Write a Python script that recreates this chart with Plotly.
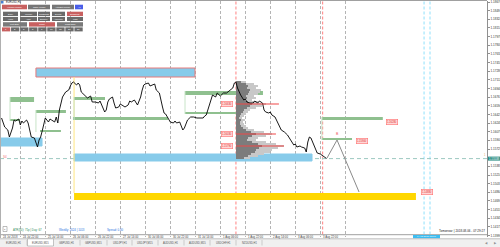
import plotly.graph_objects as go

W, H = 500, 247

# ---------------- price data (H1 bar index, close) ----------------
bars = [1, 2, 3, 5, 6, 8, 9, 10, 12, 13,
        14, 15, 17, 18, 19, 20, 22, 23, 24, 25,
        26, 27, 28, 29, 31, 32, 33, 35, 36, 37,
        38, 40, 42, 44, 45, 46, 47, 49, 50, 51,
        52, 54, 56, 58, 59, 61, 63, 64, 65, 67,
        68, 69, 70, 72, 73, 74, 76, 77, 78, 80,
        82, 83, 84, 86, 88, 90, 91, 92, 93, 95,
        96, 98, 99, 100, 102, 104, 105, 106, 107, 109,
        111, 112, 113, 115, 116, 117, 118, 120, 122, 124,
        126, 128, 130, 131, 132, 134, 136, 138, 139, 141,
        143, 145, 147, 149, 150, 151, 152, 154, 156, 157,
        158, 160, 162, 163, 165, 166, 168, 169, 170, 172,
        173, 174, 176, 178, 179, 180, 182, 184, 186, 188,
        189, 190, 192, 193, 195, 196, 197, 198, 199, 200,
        202, 203, 205, 207, 208, 209]
closes = [1.1635, 1.1627, 1.1617, 1.1611, 1.1597, 1.1615, 1.1631, 1.1629, 1.1633, 1.1621,
          1.1629, 1.1625, 1.1631, 1.1625, 1.1611, 1.1597, 1.1595, 1.1587, 1.1577, 1.1591,
          1.1597, 1.1609, 1.1625, 1.1635, 1.1627, 1.1633, 1.1631, 1.1627, 1.1637, 1.1625,
          1.1651, 1.1677, 1.1687, 1.1691, 1.1699, 1.1705, 1.1707, 1.1701, 1.1705, 1.1701,
          1.1687, 1.1681, 1.1675, 1.1679, 1.1667, 1.1667, 1.1665, 1.1669, 1.1661, 1.1647,
          1.1651, 1.1667, 1.1673, 1.1677, 1.1665, 1.1655, 1.1657, 1.1663, 1.1661, 1.1657,
          1.1661, 1.1669, 1.1667, 1.1671, 1.1661, 1.1677, 1.1691, 1.1701, 1.1703, 1.1705,
          1.1699, 1.1701, 1.1703, 1.1691, 1.1685, 1.1657, 1.1645, 1.1643, 1.1637, 1.1627,
          1.1625, 1.1629, 1.1625, 1.1627, 1.1619, 1.1611, 1.1615, 1.1631, 1.1637, 1.1637,
          1.1635, 1.1635, 1.1635, 1.1639, 1.1641, 1.1661, 1.1681, 1.1677, 1.1685, 1.1679,
          1.1685, 1.1685, 1.1691, 1.1695, 1.1705, 1.1707, 1.1695, 1.1681, 1.1671, 1.1673,
          1.1667, 1.1665, 1.1665, 1.1669, 1.1665, 1.1669, 1.1665, 1.1651, 1.1647, 1.1645,
          1.1647, 1.1641, 1.1637, 1.1625, 1.1617, 1.1611, 1.1607, 1.1601, 1.1591, 1.1581,
          1.1583, 1.1577, 1.1579, 1.1577, 1.1575, 1.1567, 1.1587, 1.1597, 1.1595, 1.1587,
          1.1575, 1.1565, 1.1563, 1.1559, 1.1557, 1.1554]

forecast_bars = [209.3, 215.7, 229.8]
forecast_prices = [1.1555, 1.1591, 1.1487]
current_price = 1.15538

# ---------------- volume profile ----------------
profile_start = 151.0
profile_levels = [1.1707, 1.1703, 1.1699, 1.1695, 1.1691, 1.1687, 1.1683, 1.1679, 1.1675, 1.1671,
                  1.1667, 1.1663, 1.1659, 1.1655, 1.1651, 1.1647, 1.1643, 1.1639, 1.1635, 1.1631,
                  1.1627, 1.1623, 1.1619, 1.1615, 1.1611, 1.1607, 1.1603, 1.1599, 1.1595, 1.1591,
                  1.1587, 1.1583, 1.1579, 1.1575, 1.1571, 1.1567, 1.1563, 1.1559, 1.1555]
profile_volumes = [100, 180, 220, 200, 250, 240, 220, 180, 200, 160,
                   220, 300, 260, 200, 140, 120, 100, 80, 60, 90,
                   70, 80, 100, 120, 180, 280, 360, 300, 220, 200,
                   300, 400, 480, 420, 360, 340, 280, 220, 140]
profile_marks = [1.1663, 1.1603, 1.1579]
profile_mark_volumes = [430, 400, 480]
VOL_SCALE = 0.064

# ---------------- zones ----------------
blue_x0 = [0.6, 23.0, 47.4]
blue_x1 = [26.9, 124.8, 199.7]
blue_top = [1.1595, 1.1735, 1.1563]
blue_bot = [1.1579, 1.1717, 1.1549]

green_x0 = [6.4, 6.4, 23.0, 25.6, 47.4, 46.7, 118.4, 118.4, 206.0, 206.0]
green_x1 = [21.8, 12.8, 42.2, 39.0, 67.2, 107.5, 168.3, 155.5, 245.0, 225.3]
green_top = [1.1677, 1.1633, 1.1651, 1.1611, 1.1677, 1.1637, 1.1689, 1.1647, 1.1637, 1.1595]
green_bot = [1.1667, 1.1629, 1.1645, 1.1607, 1.1671, 1.1631, 1.1681, 1.1643, 1.1631, 1.1591]

target_x0, target_x1 = 47.4, 266.2
target_top, target_bot = 1.1485, 1.1471

level_label_bars = [149.1, 149.1, 149.1, 247.0, 227.8, 269.4]
level_label_prices = [1.1663, 1.1603, 1.1579, 1.1628, 1.1590, 1.1488]
level_label_texts = ["1.16630", "1.16030", "1.15790", "1.16280", "1.15900", "1.14880"]
level_label_side = ["right", "right", "right", "left", "left", "left"]

session_marks = [151.0, 206.5]
cyan_marks = [271.4, 275.2]

# ---------------- axes ----------------
time_grid = [12.8, 28.8, 44.8, 60.8, 76.8, 92.8, 108.8, 124.8, 140.8, 156.8, 172.8, 188.8, 204.8, 220.8]
time_label_pos = [0.0, 12.8, 28.8, 44.8, 60.8, 76.8, 92.8, 108.8, 124.8, 140.8, 156.8, 172.8, 188.8, 204.8]
time_labels = ["24 Jul 2018", "24 Jul 22:00", "25 Jul 14:00", "26 Jul 06:00", "26 Jul 22:00",
               "27 Jul 14:00", "30 Jul 06:00", "30 Jul 22:00", "31 Jul 14:00", "1 Aug 06:00",
               "1 Aug 22:00", "2 Aug 14:00", "3 Aug 06:00", "3 Aug 22:00"]
# the tick hidden behind the current-price marker (1.15556) is left out
price_ticks = [1.18670, 1.18497, 1.18324, 1.18151, 1.17978, 1.17805, 1.17632, 1.17459, 1.17286, 1.17113,
               1.16940, 1.16767, 1.16594, 1.16421, 1.16248, 1.16075, 1.15902, 1.15729, 1.15383,
               1.15210, 1.15037, 1.14864, 1.14691, 1.14518, 1.14345, 1.14172, 1.13999]

X_RANGE = [0, 311.68]
Y_RANGE = [1.1398, 1.1869]
PLOT_RIGHT = 487
PLOT_TOP = 1
PLOT_BOTTOM = 236.5

FONT = "Arial"


def px(x, y):
    return x / W, 1 - y / H


fig = go.Figure()

# volume profile
fig.add_trace(go.Bar(y=profile_levels, x=[v * VOL_SCALE for v in profile_volumes], base=profile_start,
                     orientation="h", width=0.00036, marker=dict(color="#c8c8c8", line_width=0),
                     hoverinfo="skip"))
fig.add_trace(go.Bar(y=profile_levels, x=[v * VOL_SCALE * 0.55 for v in profile_volumes], base=profile_start,
                     orientation="h", width=0.00036, marker=dict(color="#7c7c7c", line_width=0),
                     hoverinfo="skip"))
# price line
fig.add_trace(go.Scatter(x=bars, y=closes, mode="lines", line=dict(color="black", width=0.9),
                         hoverinfo="skip"))
# forecast
fig.add_trace(go.Scatter(x=forecast_bars, y=forecast_prices, mode="lines",
                         line=dict(color="#8a8a8a", width=1), hoverinfo="skip"))

shapes = []
for i in range(len(blue_x0)):
    shapes.append(dict(type="rect", xref="x", yref="y", x0=blue_x0[i], x1=blue_x1[i],
                       y0=blue_bot[i], y1=blue_top[i], fillcolor="#87cbea",
                       line=dict(color="#e87a7a" if i == 1 else "#87cbea", width=1), layer="between"))
shapes.append(dict(type="rect", xref="x", yref="y", x0=target_x0, x1=target_x1,
                   y0=target_bot, y1=target_top, fillcolor="#ffd700", line=dict(width=0), layer="between"))
shapes.append(dict(type="line", xref="x", yref="y", x0=target_x0, x1=target_x0,
                   y0=target_top, y1=blue_bot[1], line=dict(color="#ffe680", width=1), layer="between"))
for i in range(len(green_x0)):
    shapes.append(dict(type="rect", xref="x", yref="y", x0=green_x0[i], x1=green_x1[i],
                       y0=green_bot[i], y1=green_top[i], fillcolor="#8fc08f", line=dict(width=0),
                       layer="between"))
for i in range(0, len(green_x0), 2):
    shapes.append(dict(type="line", xref="x", yref="y", x0=green_x0[i], x1=green_x0[i],
                       y0=green_bot[i + 1], y1=green_top[i], line=dict(color="#c8e4c8", width=1),
                       layer="between"))
for p, v in zip(profile_marks, profile_mark_volumes):
    shapes.append(dict(type="line", xref="x", yref="y", x0=profile_start, x1=profile_start + v * VOL_SCALE,
                       y0=p, y1=p, line=dict(color="#f04848", width=1.2), layer="above"))
for b in session_marks:
    shapes.append(dict(type="line", xref="x", yref="paper", x0=b, x1=b, y0=px(0, 234.5)[1],
                       y1=px(0, PLOT_TOP)[1], line=dict(color="#ff8080", width=1, dash="3px,2px"),
                       layer="between"))
for b in cyan_marks:
    shapes.append(dict(type="line", xref="x", yref="paper", x0=b, x1=b, y0=px(0, 234.5)[1],
                       y1=px(0, PLOT_TOP)[1], line=dict(color="#8fe0fb", width=1, dash="3px,2px"),
                       layer="between"))
shapes.append(dict(type="line", xref="paper", yref="y", x0=0, x1=PLOT_RIGHT / W, y0=current_price,
                   y1=current_price, line=dict(color="#9cc8c0", width=1, dash="4px,3px"), layer="between"))
shapes.append(dict(type="line", xref="paper", yref="paper", x0=0, x1=PLOT_RIGHT / W,
                   y0=px(0, 0.5)[1], y1=px(0, 0.5)[1], line=dict(color="#a0a0a0", width=1)))
shapes.append(dict(type="line", xref="paper", yref="paper", x0=0, x1=PLOT_RIGHT / W,
                   y0=px(0, 234.7)[1], y1=px(0, 234.7)[1], line=dict(color="#a0a0a0", width=1)))
shapes.append(dict(type="line", xref="paper", yref="paper", x0=0.5 / W, x1=0.5 / W,
                   y0=px(0, 238)[1], y1=1, line=dict(color="#b0b0b0", width=1)))

annotations = []


def box(x0, y0, x1, y1, fill, line=None):
    shapes.append(dict(type="rect", xref="paper", yref="paper", x0=x0 / W, x1=x1 / W,
                       y0=1 - y1 / H, y1=1 - y0 / H, fillcolor=fill,
                       line=dict(color=line or fill, width=0.6 if line else 0), layer="above"))


def text(x, y, s, size=2.8, color="#303030", anchor="left", bg=None):
    a = dict(xref="paper", yref="paper", x=x / W, y=1 - y / H, text=s, showarrow=False,
             xanchor=anchor, yanchor="middle", font=dict(family=FONT, size=size, color=color),
             borderpad=0)
    if bg:
        a["bgcolor"] = bg
    annotations.append(a)


for b, p, s, side in zip(level_label_bars, level_label_prices, level_label_texts, level_label_side):
    annotations.append(dict(xref="x", yref="y", x=b, y=p, text=s, showarrow=False,
                            xanchor=side, yanchor="middle", bgcolor="#ffd6d6", bordercolor="#ff7070",
                            borderwidth=0.6, borderpad=0.3,
                            font=dict(family=FONT, size=2.6, color="#e03030")))

for b, s in zip(time_label_pos, time_labels):
    annotations.append(dict(xref="x", yref="paper", x=b + 0.6, y=1 - 236.8 / H, text=s, showarrow=False,
                            xanchor="left", yanchor="middle", font=dict(family=FONT, size=2.8, color="#404040")))

annotations.append(dict(xref="x", yref="y", x=forecast_bars[1], y=forecast_prices[1] + 0.0013, text="B",
                        showarrow=False, font=dict(family=FONT, size=3.5, color="#f06060")))
text(2, 157, "S4", 3, "#f07070")
text(485, 154.8, "1", 2.6, "#f0a050", "center")

box(488, 156.6, 500, 160.6, "#2e8f86")
text(494, 158.6, "1.15538", 2.8, "white", "center")

box(1, 1, 3.5, 3.5, "#4a7fd0")
text(4.5, 2.3, "EURUSD,H1", 2.6, "#202020")
buttons = [
    (2, 4.7, 27, 9.3, "Volume Profile", "#c86060"), (28, 4.7, 50, 9.3, "Table Profile", "#767676"),
    (52, 4.7, 74, 9.3, "AutoSet Profile", "#767676"), (75, 4.7, 83, 9.3, "+1", "#4a5ee8"),
    (3, 11.7, 18, 16, "Daily", "#6a6a6a"), (20, 11.7, 37, 16, "Weekly", "#6a6a6a"),
    (38, 11.7, 50, 16, "Contracts", "#6a6a6a"), (52, 11.7, 65, 16, "Delete", "#6a6a6a"),
    (67, 11.7, 83, 16, "Sessions", "#c86060"),
    (3, 16.9, 18, 21, "Hour", "#6a6a6a"), (20, 16.9, 37, 21, "Asia", "#6a6a6a"),
    (38, 16.9, 50, 21, "Europe", "#6a6a6a"), (52, 16.9, 65, 21, "America", "#6a6a6a"),
    (67, 16.9, 83, 21, "Last", "#6a6a6a"),
    (3, 22.2, 27, 26.6, "Left Side", "#7a7a7a"), (29, 22.2, 55, 26.6, "Chart", "#c86060"),
    (57, 22.2, 83, 26.6, "Right Side", "#7a7a7a"),
]
for x0, y0, x1, y1, s, c in buttons:
    box(x0, y0, x1, y1, c)
    text((x0 + x1) / 2, (y0 + y1) / 2, s, 2.3, "white", "center")
small_buttons = ["1", "2", "3", "5", "7", "10", "15", "20", "30"]
for i, s in enumerate(small_buttons):
    x0 = 2 + i * 9.05
    box(x0, 27.4, x0 + 8.3, 31.4, "#c86060" if i == 0 else "#6a6a6a")
    text(x0 + 4.15, 29.4, s, 2.3, "white", "center")

box(3, 226.5, 7, 231.5, "white", "#909090")
text(5, 229, "1", 2.5, "#404040", "center")
text(12, 229.5, "ATR(50): 71p | Day: 67", 2.8, "#2e8b57")
text(58, 229.5, "Weekly: 2024 | 1013", 2.8, "#1f6fe0")
text(106, 229.5, "Spread: 0.00", 2.8, "#1f6fe0")
text(486, 231.3, "Tomorrow: | 2018.08.06 - 07:29:27", 3, "#202020", "right")

box(413, 235, 440, 238.6, "#3cbcf0")
text(426.5, 236.8, "6 Aug 2018 13:00", 2.4, "white", "center")

box(0, 238.8, 500, 247, "#f0f0f0")
shapes.append(dict(type="line", xref="paper", yref="paper", x0=0, x1=1, y0=1 - 238.8 / H, y1=1 - 238.8 / H,
                   line=dict(color="#c0c0c0", width=1)))
tab_edges = [0, 27, 54, 80, 107, 132, 158, 184, 210, 236, 262]
tab_names = ["EURUSD,H1", "EURUSD,M15", "GBPUSD,H1", "GBPUSD,M15", "USDJPY,H1",
             "USDJPY,M15", "AUDUSD,H1", "AUDUSD,M15", "USDCHF,H1", "NZDUSD,H1"]
for i, s in enumerate(tab_names):
    x0, x1 = tab_edges[i], tab_edges[i + 1]
    if i == 1:
        box(x0 + 0.5, 238.8, x1 - 0.5, 246, "white", "#a0a0a0")
    else:
        shapes.append(dict(type="line", xref="paper", yref="paper", x0=x1 / W, x1=x1 / W,
                           y0=1 - 245.5 / H, y1=1 - 240 / H, line=dict(color="#c0c0c0", width=0.8)))
    text((x0 + x1) / 2, 242.6, s, 2.6, "#505050", "center")
text(486, 243, "◀", 3, "#909090", "center")
text(495, 243, "▶", 3, "#909090", "center")

fig.update_layout(
    width=W, height=H, margin=dict(l=0, r=0, t=0, b=0), paper_bgcolor="white", plot_bgcolor="white",
    showlegend=False, barmode="overlay", bargap=0, shapes=shapes, annotations=annotations,
    xaxis=dict(domain=[0, PLOT_RIGHT / W], range=X_RANGE, tickvals=time_grid, showticklabels=False,
               showgrid=True, gridcolor="#b4b4b4", griddash="3px,2px", gridwidth=1, zeroline=False,
               showline=False, ticks="", fixedrange=True),
    yaxis=dict(domain=[1 - PLOT_BOTTOM / H, 1 - PLOT_TOP / H], range=Y_RANGE, side="right",
               tickvals=price_ticks, ticktext=[f"{v:.5f}" for v in price_ticks],
               tickfont=dict(family=FONT, size=3, color="#303030"), showgrid=False, zeroline=False,
               showline=True, linecolor="#909090", linewidth=1, ticks="outside", ticklen=2,
               tickcolor="#909090", automargin=False, fixedrange=True),
)
fig.write_html("out.html")
